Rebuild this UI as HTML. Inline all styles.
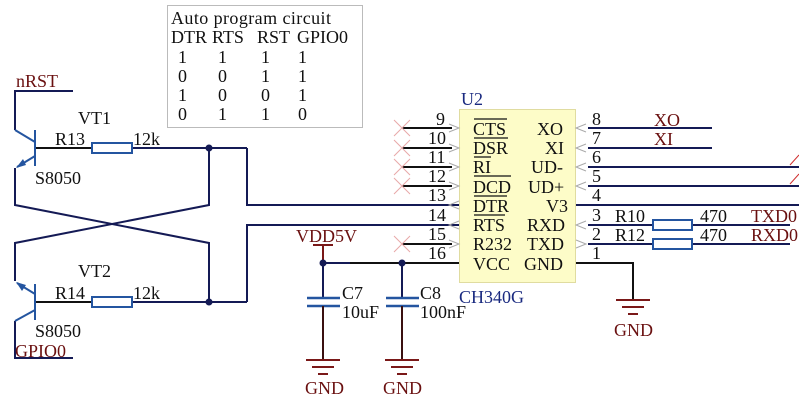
<!DOCTYPE html>
<html><head><meta charset="utf-8"><style>
html,body{margin:0;padding:0;background:#fff}
svg{display:block}
text{font-family:"Liberation Serif",serif;font-size:18px}
</style></head><body>
<svg width="799" height="408" viewBox="0 0 799 408">
<defs>
<g id="gnd"><line x1="-17" y1="0" x2="17" y2="0" stroke="#7a1818" stroke-width="2"/><line x1="-11" y1="7" x2="11" y2="7" stroke="#7a1818" stroke-width="2"/><line x1="-5" y1="14" x2="5" y2="14" stroke="#7a1818" stroke-width="2"/></g>
<g id="xm"><line x1="-8" y1="-8" x2="8" y2="8" stroke="#e8a8a8" stroke-width="1"/><line x1="-8" y1="8" x2="8" y2="-8" stroke="#e8a8a8" stroke-width="1"/></g>
</defs>
<!-- table -->
<rect x="167.5" y="5.5" width="195" height="122" fill="#fff" stroke="#bbb"/>
<g fill="#111">
<text x="171" y="24" textLength="160">Auto program circuit</text>
<text x="171" y="43">DTR</text><text x="212" y="43">RTS</text><text x="257" y="43">RST</text><text x="297" y="43">GPIO0</text>
<text x="178" y="63">1</text><text x="218" y="63">1</text><text x="261" y="63">1</text><text x="298" y="63">1</text>
<text x="178" y="82">0</text><text x="218" y="82">0</text><text x="261" y="82">1</text><text x="298" y="82">1</text>
<text x="178" y="101">1</text><text x="218" y="101">0</text><text x="261" y="101">0</text><text x="298" y="101">1</text>
<text x="178" y="120">0</text><text x="218" y="120">1</text><text x="261" y="120">1</text><text x="298" y="120">0</text>
</g>
<!-- left circuit wires -->
<g stroke="#141a55" stroke-width="2" fill="none">
<polyline points="73,91 15,91 15,130"/>
<polyline points="15,168 15,205 209,243 209,302"/>
<polyline points="209,148 209,205 15,243 15,281"/>
<polyline points="15,321 15,358 73,358"/>
<line x1="132" y1="148" x2="247" y2="148"/>
<polyline points="247,148 247,205 459,205"/>
<line x1="132" y1="302" x2="247" y2="302"/>
<polyline points="247,302 247,225 459,225"/>
</g>
<g stroke="#111" stroke-width="2"><line x1="35" y1="148" x2="92" y2="148"/><line x1="35" y1="302" x2="92" y2="302"/></g>
<g stroke="#2455a0" stroke-width="2" fill="none">
<line x1="35" y1="130" x2="35" y2="166"/><line x1="15" y1="130" x2="35" y2="142"/><line x1="35" y1="156" x2="17" y2="167"/>
<line x1="35" y1="284" x2="35" y2="320"/><line x1="35" y1="310" x2="15" y2="321"/><line x1="35" y1="294" x2="17" y2="283"/>
<rect x="92" y="143" width="40" height="10" fill="#fff"/>
<rect x="92" y="297" width="40" height="10" fill="#fff"/>
</g>
<polygon points="16,168 23,159 26,165" fill="#2455a0"/>
<polygon points="16,282 26,285 22,291" fill="#2455a0"/>
<circle cx="209" cy="148" r="3.5" fill="#141a55"/><circle cx="209" cy="302" r="3.5" fill="#141a55"/>
<g fill="#111"><text x="78" y="124">VT1</text><text x="55" y="145">R13</text><text x="133" y="145">12k</text><text x="35" y="184">S8050</text>
<text x="78" y="277">VT2</text><text x="55" y="299">R14</text><text x="133" y="299">12k</text><text x="35" y="337">S8050</text></g>
<g fill="#6a1010"><text x="16" y="87">nRST</text><text x="15" y="357">GPIO0</text></g>
<!-- chip -->
<rect x="459.5" y="109.5" width="116" height="173" fill="#fdfcc8" stroke="#e0dca0"/>
<text x="461" y="105" fill="#1a2a80">U2</text>
<text x="459" y="303" fill="#1a2a80">CH340G</text>
<g stroke="#111" stroke-width="2">
<line x1="402" y1="128" x2="452" y2="128"/><line x1="402" y1="148" x2="452" y2="148"/><line x1="402" y1="167" x2="452" y2="167"/><line x1="402" y1="186" x2="452" y2="186"/><line x1="402" y1="244" x2="452" y2="244"/>
<line x1="350" y1="263" x2="459" y2="263"/>
</g>
<use href="#xm" x="402" y="128"/><use href="#xm" x="402" y="148"/><use href="#xm" x="402" y="167"/><use href="#xm" x="402" y="186"/><use href="#xm" x="402" y="244"/>
<g stroke="#aaa" fill="none" stroke-width="1">
<polyline points="449,124 459,128 449,132"/><polyline points="449,144 459,148 449,152"/><polyline points="449,163 459,167 449,171"/><polyline points="449,182 459,186 449,190"/><polyline points="459,201 449,205 459,209"/><polyline points="459,221 449,225 459,229"/><polyline points="449,240 459,244 449,248"/>
<polyline points="586,124 576,128 586,132"/><polyline points="586,144 576,148 586,152"/><polyline points="586,163 576,167 586,171"/><polyline points="586,182 576,186 586,190"/><polyline points="586,221 576,225 586,229"/><polyline points="576,240 586,244 576,248"/>
</g>
<g fill="#111">
<text x="436" y="125">9</text><text x="428" y="144">10</text><text x="428" y="163">11</text><text x="428" y="182">12</text><text x="428" y="201">13</text><text x="428" y="221">14</text><text x="428" y="240">15</text><text x="428" y="259">16</text>
<text x="473" y="135">CTS</text><text x="473" y="154">DSR</text><text x="473" y="173">RI</text><text x="473" y="193">DCD</text><text x="473" y="212">DTR</text><text x="473" y="231">RTS</text><text x="473" y="250">R232</text><text x="473" y="270">VCC</text>
<text x="537" y="135">XO</text><text x="545" y="154">XI</text><text x="531" y="173">UD-</text><text x="528" y="193">UD+</text><text x="546" y="212">V3</text><text x="527" y="231">RXD</text><text x="527" y="250">TXD</text><text x="524" y="270">GND</text>
<text x="592" y="125">8</text><text x="592" y="144">7</text><text x="592" y="163">6</text><text x="592" y="182">5</text><text x="592" y="201">4</text><text x="592" y="221">3</text><text x="592" y="240">2</text><text x="592" y="259">1</text>
</g>
<g stroke="#111" stroke-width="1.3">
<line x1="474" y1="119" x2="507" y2="119"/><line x1="474" y1="138" x2="508" y2="138"/><line x1="474" y1="157" x2="491" y2="157"/><line x1="474" y1="176" x2="511" y2="176"/><line x1="474" y1="196" x2="507" y2="196"/><line x1="474" y1="215" x2="505" y2="215"/>
</g>
<g stroke="#141a55" stroke-width="2" fill="none">
<line x1="588" y1="128" x2="712" y2="128"/><line x1="588" y1="148" x2="712" y2="148"/>
<line x1="588" y1="167" x2="799" y2="167"/><line x1="588" y1="186" x2="799" y2="186"/>
<line x1="576" y1="205" x2="799" y2="205"/>
<line x1="588" y1="225" x2="653" y2="225"/><line x1="692" y1="225" x2="790" y2="225"/>
<line x1="588" y1="244" x2="653" y2="244"/><line x1="692" y1="244" x2="790" y2="244"/>
<polyline points="576,263 633,263 633,300" stroke="#111"/>
</g>
<g stroke="#d03030" stroke-width="1"><line x1="790" y1="165" x2="799" y2="155"/><line x1="790" y1="184" x2="799" y2="174"/></g>
<g stroke="#2455a0" stroke-width="2" fill="#fff"><rect x="653" y="220" width="39" height="10"/><rect x="653" y="239" width="39" height="10"/></g>
<g fill="#111"><text x="615" y="222">R10</text><text x="615" y="241">R12</text><text x="700" y="222">470</text><text x="700" y="241">470</text></g>
<g fill="#6a1010"><text x="654" y="126">XO</text><text x="654" y="145">XI</text><text x="751" y="222">TXD0</text><text x="751" y="241">RXD0</text></g>
<use href="#gnd" x="633" y="300"/>
<text x="614" y="336" fill="#6a1010">GND</text>
<!-- caps -->
<line x1="323" y1="245" x2="323" y2="263" stroke="#7a1818" stroke-width="2"/>
<line x1="313" y1="245" x2="333" y2="245" stroke="#7a1818" stroke-width="2"/>
<line x1="323" y1="263" x2="350" y2="263" stroke="#141a55" stroke-width="2"/>
<text x="296" y="242" fill="#6a1010">VDD5V</text>
<g stroke="#141a55" stroke-width="2"><line x1="323" y1="263" x2="323" y2="298"/><line x1="402" y1="263" x2="402" y2="298"/></g>
<g stroke="#2455a0" stroke-width="2.5"><line x1="307" y1="298" x2="340" y2="298"/><line x1="307" y1="306" x2="340" y2="306"/><line x1="386" y1="298" x2="419" y2="298"/><line x1="386" y1="306" x2="419" y2="306"/></g>
<g stroke="#3a1010" stroke-width="2"><line x1="323" y1="306" x2="323" y2="360"/><line x1="402" y1="306" x2="402" y2="360"/></g>
<use href="#gnd" x="323" y="360"/><use href="#gnd" x="402" y="360"/>
<circle cx="323" cy="263" r="3.5" fill="#141a55"/><circle cx="402" cy="263" r="3.5" fill="#141a55"/>
<g fill="#111"><text x="342" y="299">C7</text><text x="342" y="318">10uF</text><text x="420" y="299">C8</text><text x="420" y="318">100nF</text></g>
<g fill="#6a1010"><text x="305" y="394">GND</text><text x="383" y="394">GND</text></g>
</svg>
</body></html>
